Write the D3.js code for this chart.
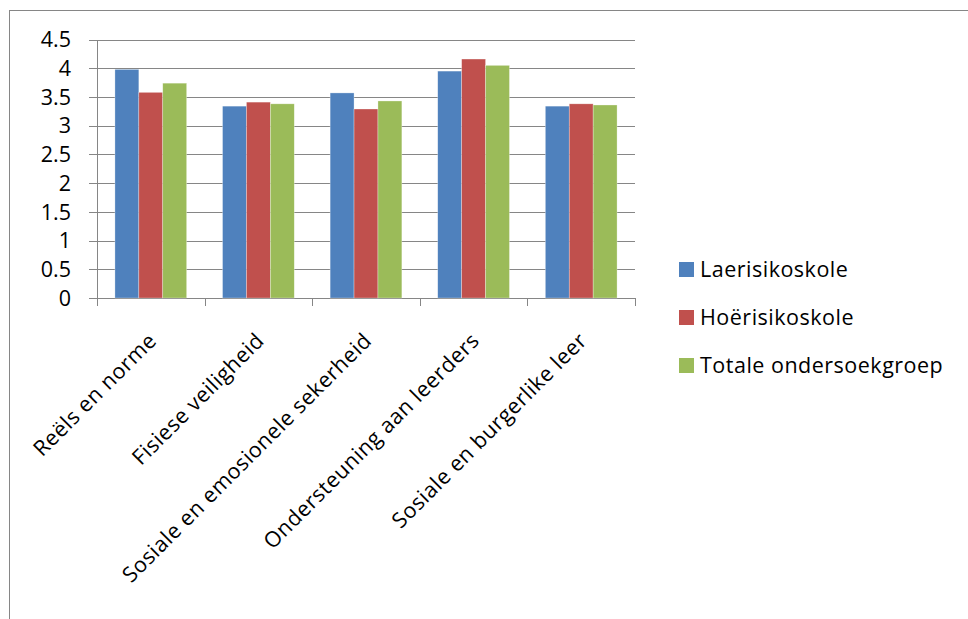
<!DOCTYPE html>
<html>
<head>
<meta charset="utf-8">
<script src="https://cdn.jsdelivr.net/npm/d3@7"></script>
<style>
  html, body { margin: 0; padding: 0; background: #fff; }
  svg { display: block; }
  text { font-family: "Open Sans", "Noto Sans", sans-serif; fill: #000; }
</style>
</head>
<body>
<svg id="chart" width="968" height="619"></svg>
<script>
// Categories (school climate dimensions)
const categories = [
  "Reëls en norme",
  "Fisiese veiligheid",
  "Sosiale en emosionele sekerheid",
  "Ondersteuning aan leerders",
  "Sosiale en burgerlike leer"
];
// Series names
const seriesNames = ["Laerisikoskole", "Hoërisikoskole", "Totale ondersoekgroep"];
// Mean scores per series
const laerisiko = [3.98, 3.34, 3.57, 3.95, 3.34];
const hoerisiko = [3.58, 3.41, 3.29, 4.16, 3.38];
const totaal    = [3.74, 3.38, 3.43, 4.05, 3.36];
// Y-axis ticks
const yTicks = [0, 0.5, 1, 1.5, 2, 2.5, 3, 3.5, 4, 4.5];
const colors = ["#4F81BD", "#C0504D", "#9BBB59"];

const seriesValues = [laerisiko, hoerisiko, totaal];

const svg = d3.select("#chart");
const plot = { left: 97, right: 635, top: 39.5, bottom: 298 };
const gridColor = "#868686";
const fontSize = 21.5;
const tracking = "0.5px";

// Outer chart frame
svg.append("rect")
  .attr("x", 9.5).attr("y", 10.5)
  .attr("width", 1200).attr("height", 1000)
  .attr("fill", "none").attr("stroke", gridColor).attr("stroke-width", 1);

const y = d3.scaleLinear().domain([0, 4.5]).range([plot.bottom, plot.top]);
const x0 = d3.scaleBand().domain(categories).range([plot.left, plot.right]).paddingInner(0).paddingOuter(0);
const bw = x0.bandwidth() / 4.5;
const x1 = d3.scaleBand().domain(seriesNames).range([0.75 * bw, 3.75 * bw]).padding(0);

// Horizontal gridlines
svg.append("g").selectAll("line").data(yTicks).join("line")
  .attr("x1", plot.left - 8).attr("x2", plot.right)
  .attr("y1", d => Math.round(y(d)) + 0.5).attr("y2", d => Math.round(y(d)) + 0.5)
  .attr("stroke", gridColor).attr("stroke-width", 1);

// Y axis line
svg.append("line")
  .attr("x1", plot.left + 0.5).attr("x2", plot.left + 0.5)
  .attr("y1", Math.round(y(4.5))).attr("y2", Math.round(y(0)) + 1)
  .attr("stroke", gridColor);

// Y tick labels
svg.append("g").selectAll("text").data(yTicks).join("text")
  .attr("x", 71).attr("y", d => y(d)).attr("dy", "0.36em")
  .attr("text-anchor", "end").attr("font-size", fontSize)
  .text(d => d);

// Bars
const groups = svg.append("g").selectAll("g").data(categories).join("g")
  .attr("transform", c => `translate(${x0(c)},0)`);
groups.selectAll("rect")
  .data((c, i) => seriesNames.map((s, j) => ({ s, v: seriesValues[j][i], j })))
  .join("rect")
  .attr("x", d => x1(d.s))
  .attr("width", x1.bandwidth())
  .attr("y", d => y(d.v))
  .attr("height", d => y(0) - y(d.v))
  .attr("fill", d => colors[d.j])
  .attr("stroke", "rgba(255,255,255,0.5)").attr("stroke-width", 0.6);

// X axis ticks at category boundaries
const bounds = categories.map(c => x0(c)).concat([plot.right]);
svg.append("g").selectAll("line").data(bounds).join("line")
  .attr("x1", d => Math.round(d) + 0.5).attr("x2", d => Math.round(d) + 0.5)
  .attr("y1", Math.round(y(0))).attr("y2", Math.round(y(0)) + 8)
  .attr("stroke", gridColor);

// Rotated category labels
svg.append("g").selectAll("text").data(categories).join("text")
  .attr("transform", c => `translate(${x0(c) + x0.bandwidth() / 2 + 7},${plot.bottom + 44}) rotate(-45)`)
  .attr("text-anchor", "end").attr("font-size", fontSize)
  .attr("letter-spacing", tracking)
  .text(c => c);

// Legend
const legend = svg.append("g").selectAll("g").data(seriesNames).join("g")
  .attr("transform", (d, i) => `translate(679,${269.5 + i * 48})`);
legend.append("rect")
  .attr("x", 0).attr("y", -7.5).attr("width", 15).attr("height", 15)
  .attr("fill", (d, i) => colors[i]);
legend.append("text")
  .attr("x", 21).attr("y", 0).attr("dy", "0.36em")
  .attr("font-size", fontSize).attr("letter-spacing", tracking)
  .text(d => d);
</script>
</body>
</html>
